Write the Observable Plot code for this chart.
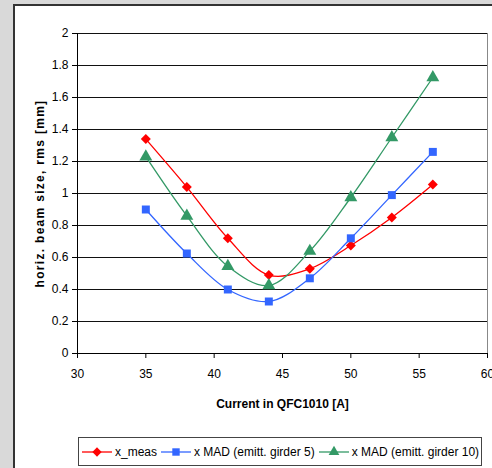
<!DOCTYPE html>
<html>
<head>
<meta charset="utf-8">
<script src="https://cdn.jsdelivr.net/npm/d3@7"></script>
<script src="https://cdn.jsdelivr.net/npm/@observablehq/plot@0.6"></script>
<style>
  html, body { margin: 0; padding: 0; }
  body { width: 492px; height: 468px; overflow: hidden; background: #d9d9d9; position: relative; font-family: "Liberation Sans", Arial, sans-serif; }
  #panel { position: absolute; left: 13px; top: 4px; width: 500px; height: 480px; background: #fff; border-left: 2px solid #333; border-top: 2px solid #333; }
  #chart { position: absolute; left: 0; top: 0; }
  #legend { position: absolute; left: 78px; top: 437px; width: 402px; height: 27px; border: 1px solid #444; background: #fff; display: flex; align-items: center; font-size: 12px; color: #000; white-space: nowrap; }
  #legend .item { display: flex; align-items: center; }
  #legend svg { display: block; }
</style>
</head>
<body>
<div id="panel"></div>
<div id="chart"></div>
<div id="legend"></div>
<script>
const currents = [35, 38, 41, 44, 47, 50, 53, 56];
const xMeas = [1.34, 1.04, 0.72, 0.49, 0.53, 0.675, 0.85, 1.056];
const xMad5 = [0.90, 0.625, 0.40, 0.325, 0.47, 0.72, 0.99, 1.26];
const xMad10 = [1.23, 0.86, 0.545, 0.425, 0.64, 0.975, 1.35, 1.725];
const seriesNames = ["x_meas", "x MAD (emitt. girder 5)", "x MAD (emitt. girder 10)"];
const seriesColors = ["#ff0000", "#3366ff", "#339966"];
const seriesSymbols = ["diamond2", "square", "triangle"];
const yTicks = [0, 0.2, 0.4, 0.6, 0.8, 1, 1.2, 1.4, 1.6, 1.8, 2];
const xTicks = [30, 35, 40, 45, 50, 55, 60];
const gridLines = [0.2, 0.4, 0.6, 0.8, 1, 1.2, 1.4, 1.6, 1.8, 2];
const xLabel = "Current in QFC1010 [A]";
const yLabel = "horiz. beam size, rms [mm]";

const seriesValues = [xMeas, xMad5, xMad10];
const rows = seriesValues.flatMap((vals, s) => vals.map((v, i) => ({x: currents[i], y: v, s: seriesNames[s]})));

const marks = [
  Plot.frame({stroke: "#888"}),
  Plot.ruleY(gridLines, {stroke: "#111", strokeWidth: 1}),
  Plot.ruleX([30], {stroke: "#000"}),
  Plot.ruleY([0], {stroke: "#000"}),
  Plot.axisX({ticks: xTicks, tickSize: 5, tickPadding: 11, fontSize: 12, label: null}),
  Plot.axisY({ticks: yTicks, tickSize: 5, tickPadding: 4, fontSize: 12, label: null, tickFormat: d => String(d)}),
];
seriesNames.forEach((name, s) => {
  const d = rows.filter(r => r.s === name);
  marks.push(Plot.line(d, {x: "x", y: "y", stroke: seriesColors[s], strokeWidth: 1.3, curve: "catmull-rom"}));
  marks.push(Plot.dot(d, {x: "x", y: "y", fill: seriesColors[s], stroke: "none", symbol: seriesSymbols[s], r: s === 2 ? 4.8 : 4.5}));
});
marks.push(Plot.text([xLabel], {frameAnchor: "bottom", dy: 54, fontWeight: "bold", fontSize: 12, fill: "#000"}));
marks.push(Plot.text([yLabel], {frameAnchor: "left", textAnchor: "middle", dx: -37, rotate: -90, fontWeight: "bold", fontSize: 12, fill: "#000"}));

const chart = Plot.plot({
  width: 492,
  height: 430,
  marginLeft: 77,
  marginRight: 5,
  marginTop: 33,
  marginBottom: 77,
  style: {background: "transparent", fontFamily: "'Liberation Sans', Arial, sans-serif", fontSize: "12px", color: "#000", overflow: "visible"},
  x: {domain: [30, 60]},
  y: {domain: [0, 2]},
  marks
});
d3.select(chart).selectAll("text").filter(function() { return this.textContent === yLabel; }).style("letter-spacing", "1.3px");
document.getElementById("chart").appendChild(chart);

// legend
const legend = d3.select("#legend");
seriesNames.forEach((name, s) => {
  const item = legend.append("div").attr("class", "item").style("margin-left", s === 0 ? "3px" : "4px");
  const svg = item.append("svg").attr("width", 30).attr("height", 14);
  svg.append("line").attr("x1", 0).attr("x2", 30).attr("y1", 7).attr("y2", 7).attr("stroke", seriesColors[s]).attr("stroke-width", 1.3);
  svg.append("path").attr("transform", "translate(15,7)").attr("d", d3.symbol(s === 0 ? d3.symbolDiamond2 : s === 1 ? d3.symbolSquare : d3.symbolTriangle, s === 2 ? 50 : 55)()).attr("fill", seriesColors[s]);
  item.append("span").text(name).style("margin-left", "3px");
});
</script>
</body>
</html>
